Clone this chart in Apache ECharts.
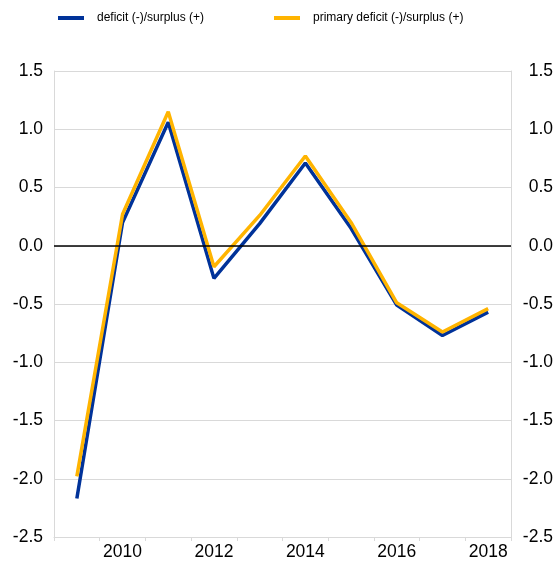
<!DOCTYPE html>
<html>
<head>
<meta charset="utf-8">
<script src="https://cdn.jsdelivr.net/npm/echarts@6/dist/echarts.min.js"></script>
<style>
  html, body { margin: 0; padding: 0; background: #fff; }
  #chart { width: 556px; height: 564px; }
</style>
</head>
<body>
<div id="chart"></div>
<script>
// data
const years = ['2009', '2010', '2011', '2012', '2013', '2014', '2015', '2016', '2017', '2018']
const deficit = [-2.17, 0.2, 1.06, -0.28, 0.19, 0.71, 0.15, -0.51, -0.77, -0.57]
const primaryDeficit = [-1.98, 0.27, 1.15, -0.18, 0.26, 0.77, 0.2, -0.49, -0.74, -0.54]
const seriesNames = ['deficit (-)/surplus (+)', 'primary deficit (-)/surplus (+)']

const chart = echarts.init(document.getElementById('chart'))
const font = 'Liberation Sans, Arial, sans-serif'
const gridColor = '#d9d9d9'
const tickFont = 17.5

// same settings for left and right axis
function valueAxis(pos) {
  return {
    type: 'value',
    position: pos,
    min: -2.5,
    max: 1.5,
    interval: 0.5,
    axisLine: { show: true, lineStyle: { color: gridColor } },
    axisTick: { show: false },
    splitLine: { show: pos === 'left', lineStyle: { color: gridColor, width: 1 } },
    axisLabel: {
      color: '#000',
      fontSize: tickFont,
      fontFamily: font,
      margin: pos === 'left' ? 11 : 42,
      align: 'right',
      formatter: v => v.toFixed(1)
    }
  }
}

chart.setOption({
  backgroundColor: '#fff',
  animation: false,
  legend: {
    top: 7,
    left: 53,
    itemWidth: 26,
    itemHeight: 4,
    itemGap: 70,
    icon: 'rect',
    selectedMode: false,
    textStyle: { fontSize: 12, fontFamily: font, color: '#000', padding: [0, 0, 0, 8] },
    data: seriesNames
  },
  grid: { left: 54, right: 45, top: 71, bottom: 27 },
  xAxis: {
    type: 'category',
    data: years,
    boundaryGap: true,
    axisLine: { show: true, onZero: false, lineStyle: { color: gridColor } },
    axisTick: { show: true, interval: 0, length: 4, lineStyle: { color: gridColor } },
    axisLabel: {
      color: '#000',
      fontSize: tickFont,
      fontFamily: font,
      margin: 6,
      interval: (i) => i % 2 === 1
    },
    splitLine: { show: false }
  },
  yAxis: [valueAxis('left'), valueAxis('right')],
  series: [
    {
      name: seriesNames[0],
      type: 'line',
      data: deficit,
      color: '#003299',
      symbol: 'none',
      lineStyle: { width: 3.5, color: '#003299' },
      z: 3,
      markLine: {
        silent: true,
        symbol: 'none',
        label: { show: false },
        lineStyle: { color: '#000', width: 1.5, type: 'solid' },
        data: [{ yAxis: 0 }]
      }
    },
    {
      name: seriesNames[1],
      type: 'line',
      data: primaryDeficit,
      color: '#ffb400',
      symbol: 'none',
      lineStyle: { width: 3.5, color: '#ffb400' },
      z: 4
    }
  ]
})
</script>
</body>
</html>
